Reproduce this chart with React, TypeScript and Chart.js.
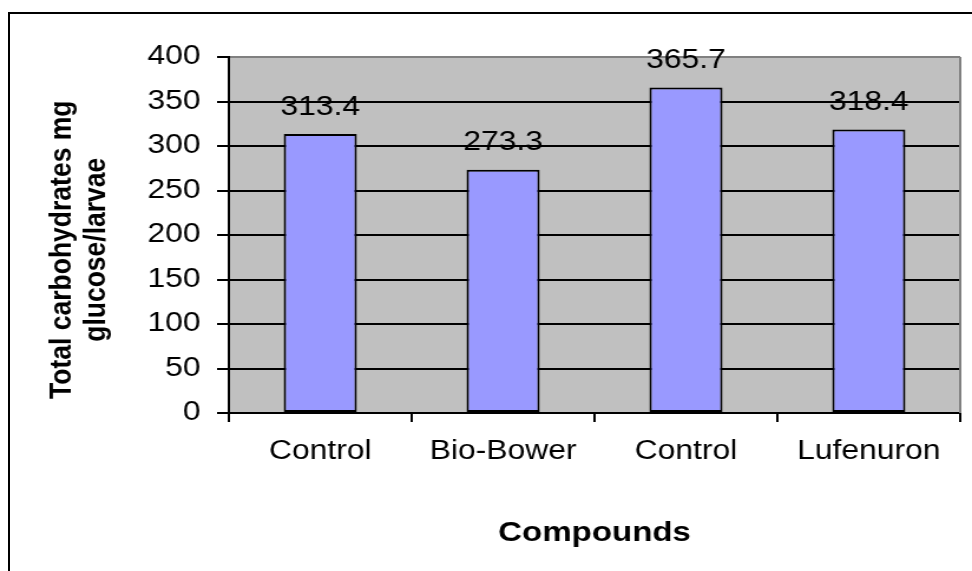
import { useEffect, useRef } from "react";
import { Chart, registerables } from "chart.js";

Chart.register(...registerables);

const categories = ["Control", "Bio-Bower", "Control", "Lufenuron"];
const values = [313.4, 273.3, 365.7, 318.4];
const yMin = 0;
const yMax = 400;
const yStep = 50;
const yTitleLines = ["Total carbohydrates mg    ", "glucose/larvae    "];
const xTitleText = "Compounds";

const W = 824;
const H = 571;
const SX = 972 / W;
const FONT = "'Liberation Sans', Arial, Helvetica, sans-serif";

const plotBg = {
  id: "plotBg",
  beforeDraw(chart: any) {
    const { ctx, chartArea: a } = chart;
    ctx.save();
    ctx.fillStyle = "#C0C0C0";
    ctx.fillRect(a.left, a.top, a.right - a.left, a.bottom - a.top);
    ctx.restore();
  },
  afterDraw(chart: any) {
    const { ctx, chartArea: a } = chart;
    ctx.save();
    ctx.strokeStyle = "#808080";
    ctx.lineWidth = 2;
    ctx.beginPath();
    ctx.moveTo(a.right, a.top);
    ctx.lineTo(a.right, a.bottom);
    ctx.stroke();
    ctx.restore();
  },
};

const valueLabels = {
  id: "valueLabels",
  afterDatasetsDraw(chart: any) {
    const { ctx } = chart;
    const meta = chart.getDatasetMeta(0);
    ctx.save();
    ctx.font = `27px ${FONT}`;
    ctx.fillStyle = "#000";
    ctx.textAlign = "center";
    ctx.textBaseline = "middle";
    meta.data.forEach((bar: any, i: number) => {
      const v = chart.data.datasets[0].data[i] as number;
      ctx.fillText(v.toFixed(1), bar.x, bar.y - 27);
    });
    ctx.restore();
  },
};

export default function App() {
  const ref = useRef<HTMLCanvasElement | null>(null);

  useEffect(() => {
    if (!ref.current) return;
    const chart = new Chart(ref.current, {
      type: "bar",
      data: {
        labels: categories,
        datasets: [
          {
            data: values,
            backgroundColor: "#9999FF",
            borderColor: "#000000",
            borderWidth: 2,
            borderSkipped: false,
            barPercentage: 0.4,
            categoryPercentage: 1.0,
          },
        ],
      },
      options: {
        responsive: false,
        animation: false,
        devicePixelRatio: 1,
        layout: { padding: { top: 57, right: 10, left: 0, bottom: 0 } },
        plugins: {
          legend: { display: false },
          tooltip: { enabled: false },
        },
        scales: {
          x: {
            offset: true,
            afterFit(scale: any) {
              scale.height = 158;
            },
            grid: {
              display: true,
              drawOnChartArea: false,
              drawTicks: true,
              tickLength: 9,
              color: "#000",
              lineWidth: 2,
              offset: true,
            },
            border: { display: true, color: "#000", width: 2 },
            ticks: {
              color: "#000",
              font: { family: FONT, size: 27 },
              padding: 13,
              maxRotation: 0,
              autoSkip: false,
            },
            title: {
              display: true,
              text: xTitleText,
              color: "#000",
              font: { family: FONT, size: 28, weight: "bold", lineHeight: 1.2 },
              padding: { top: 0, bottom: 21 },
            },
          },
          y: {
            min: yMin,
            max: yMax,
            afterFit(scale: any) {
              scale.width = 194;
            },
            grid: {
              color: (ctx: any) => (ctx.tick && ctx.tick.value === yMax ? "#808080" : "#000"),
              tickColor: "#000",
              lineWidth: 2,
              tickWidth: 2,
              tickLength: 10,
              drawTicks: true,
            },
            border: { display: true, color: "#000", width: 2 },
            ticks: {
              stepSize: yStep,
              color: "#000",
              font: { family: FONT, size: 27 },
              padding: 14,
            },
            title: {
              display: true,
              text: yTitleLines,
              color: "#000",
              font: { family: FONT, size: 26.5, weight: "bold", lineHeight: 1.087 },
              padding: { top: 38.6, bottom: 0 },
            },
          },
        },
      },
      plugins: [plotBg, valueLabels],
    });
    return () => chart.destroy();
  }, []);

  return (
    <>
      <div
        style={{
          position: "fixed",
          left: 8,
          top: 12,
          width: 964,
          height: 559,
          boxSizing: "border-box",
          borderLeft: "2px solid #000",
          borderTop: "2px solid #000",
        }}
      />
      <div
        style={{
          position: "fixed",
          left: 0,
          top: 0,
          width: W,
          height: H,
          transform: `scaleX(${SX})`,
          transformOrigin: "0 0",
        }}
      >
        <canvas ref={ref} width={W} height={H} style={{ display: "block" }} />
      </div>
    </>
  );
}
